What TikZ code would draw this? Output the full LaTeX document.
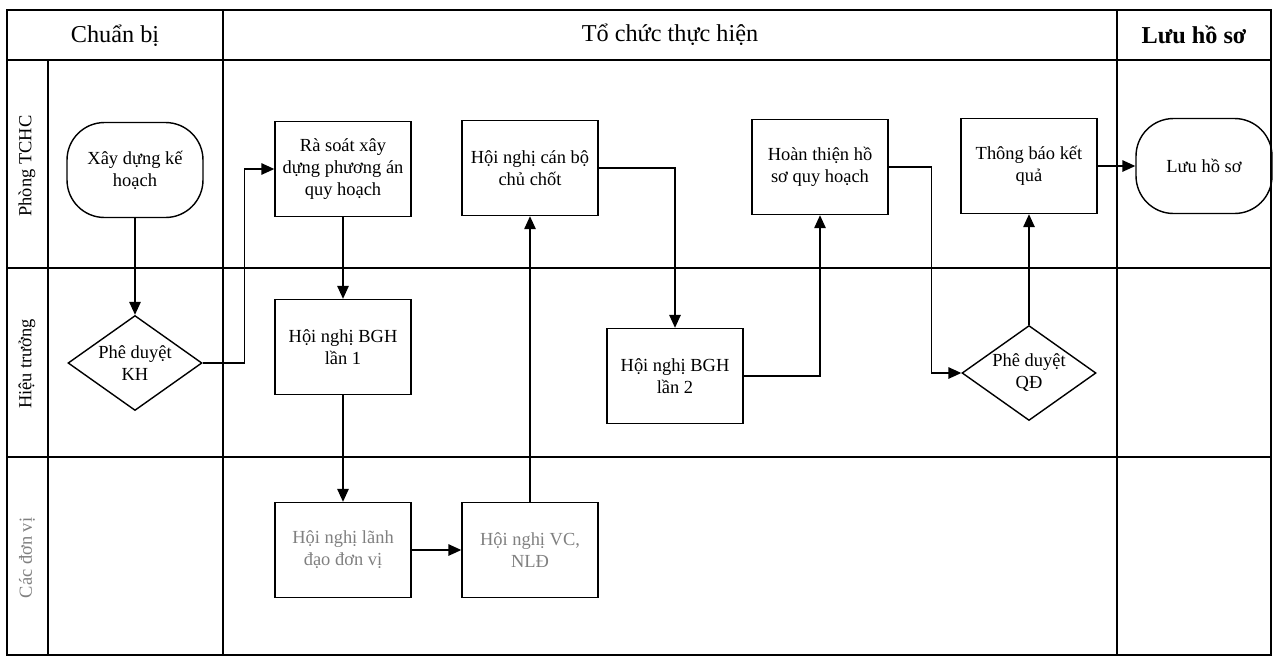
\documentclass[tikz,border=0pt]{standalone}
\usepackage{fontspec}
\setmainfont{Liberation Serif}
\usetikzlibrary{shapes.geometric,arrows.meta}

\begin{document}
\begin{tikzpicture}[x=0.02cm,y=-0.02cm,draw=black,line width=0.8pt,
        box/.style={draw,rectangle,minimum width=2.72cm,minimum height=1.9cm,align=center,inner sep=1pt,font=\fontsize{10.5}{12.5}\selectfont},
        term/.style={box,rounded corners=0.75cm},
        choice/.style={draw,diamond,aspect=1.4,minimum width=2.68cm,minimum height=1.9cm,inner sep=0pt,align=center,font=\fontsize{10.5}{12.5}\selectfont},
        faint/.style={text=black!50},
        flow/.style={-{Triangle[length=2.6mm,width=2.3mm]}},
        lane/.style={rotate=90,font=\fontsize{10.5}{12.5}\selectfont},
        head/.style={font=\fontsize{13.8}{16}\selectfont}]
            \useasboundingbox (0,0) rectangle (1277,660);
            \draw (7,10) rectangle (1271,655);
            \draw (7,60) -- (1271,60);
            \foreach \y in {268,457}
                {\draw (7,\y) -- (1271,\y);}
            \foreach \x in {223,1117}
                {\draw (\x,10) -- (\x,655);}
            \draw (48,60) -- (48,655);

            % X % 135   343   530   675   820   1029   1204
            % Y % 35    166   363   550

            \node[head] (prep) at (115,36) {Chuẩn bị};
            \node[head] (exec) at (670,35) {Tổ chức thực hiện};
            \node[head] (store) at (1194,35) {\bfseries Lưu hồ sơ};

            \node[lane] (tchc) at (27,166) {Phòng TCHC};
            \node[lane] (rector) at (27,364) {Hiệu trưởng};
            \node[lane,faint] (units) at (27,558) {Các đơn vị};

            \node[term] (plan) at (135,170) {Xây dựng kế\\hoạch};
            \node[choice] (okplan) at (135,363) {Phê duyệt\\KH};
            \node[box] (review) at (343,169) {Rà soát xây\\dựng phương án\\quy hoạch};
            \node[box] (bgh1) at (343,347) {Hội nghị BGH\\lần 1};
            \node[box,faint] (leaders) at (343,550) {Hội nghị lãnh\\đạo đơn vị};
            \node[box,faint] (staff) at (530,550) {Hội nghị VC,\\NLĐ};
            \node[box] (key) at (530,168) {Hội nghị cán bộ\\chủ chốt};
            \node[box] (bgh2) at (675,376) {Hội nghị BGH\\lần 2};
            \node[box] (final) at (820,167) {Hoàn thiện hồ\\sơ quy hoạch};
            \node[choice] (okdec) at (1029,373) {Phê duyệt\\QĐ};
            \node[box] (notice) at (1029,166) {Thông báo kết\\quả};
            \node[term] (archive) at (1204,166) {Lưu hồ sơ};

            \draw[flow] (plan) -- (okplan);
            \draw[flow] (okplan.east) -- ++(42,0) |- (review.west);
            \draw[flow] (review) -- (bgh1);
            \draw[flow] (bgh1) -- (leaders);
            \draw[flow] (leaders) -- (staff);
            \draw[flow] (staff) -- (key);
            \draw[flow] (key.east) -| (bgh2.north);
            \draw[flow] (bgh2.east) -| (final.south);
            \draw[flow] (final.east) -- ++(43,0) |- (okdec.west);
            \draw[flow] (okdec) -- (notice);
            \draw[flow] (notice) -- (archive);
        \end{tikzpicture}
\end{document}
